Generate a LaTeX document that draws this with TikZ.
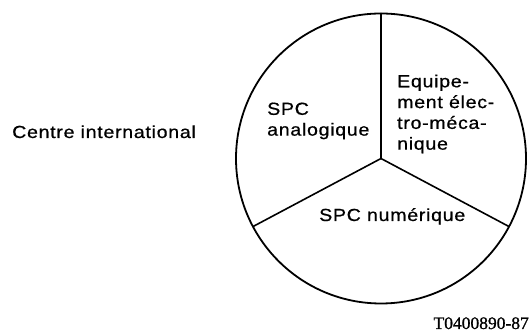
\documentclass[tikz,border=0pt]{standalone}
\usepackage{fontspec}
\usetikzlibrary{calc}
\setmainfont{Liberation Sans}[FakeStretch=1.12, LetterSpace=4, FakeBold=0.7]
\newfontfamily\codefont{Liberation Serif}[FakeBold=1]
\begin{document}
\begin{tikzpicture}[x=1pt, y=1pt,
    lbl/.style={inner sep=0pt, font=\fontsize{17.5}{20.8}\selectfont, align=left},
    rim/.style={line width=1.8pt},
    spoke/.style={line width=1.6pt, line cap=round}]
  \useasboundingbox (0,0) rectangle (531,334);

  % pie chart: outer circle and three sector borders
  \coordinate (o) at (381,175.5);
  \coordinate (top) at ($(o)+(90:145pt)$);
  \coordinate (right) at ($(o)+(-28:145pt)$);
  \coordinate (left) at ($(o)+(208:145pt)$);
  \draw[rim] (o) circle[radius=145pt];
  \draw[spoke] (o) -- (top);
  \draw[spoke] (o) -- (right);
  \draw[spoke] (o) -- (left);

  % labels
  \node[lbl, anchor=base west] (centre) at (12,196) {Centre international};
  \node[lbl, anchor=north west] (analog) at (267,231.6) {SPC\\analogique};
  \node[lbl, anchor=north west] (electro) at (397,259.6) {Equipe-\\ment élec-\\tro-méca-\\nique};
  \node[lbl, anchor=base west] (numer) at (319,113) {SPC numérique};
  \node[inner sep=0pt, anchor=base east, font=\codefont\fontsize{17.5}{20}\selectfont] (ref) at (529,5) {T0400890-87};
\end{tikzpicture}
\end{document}
